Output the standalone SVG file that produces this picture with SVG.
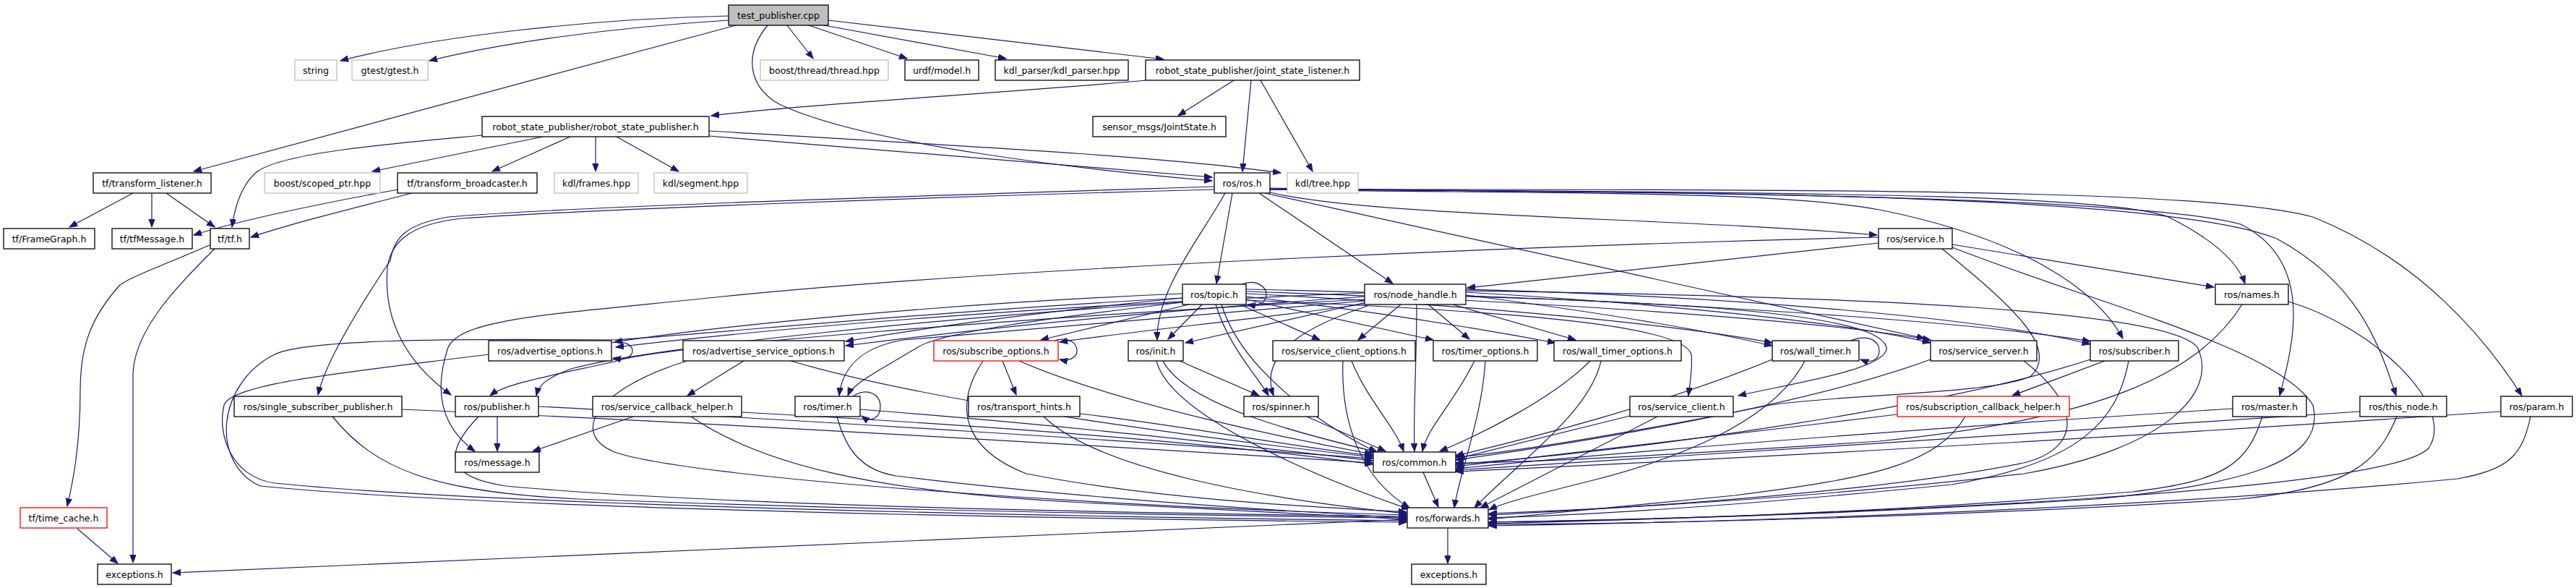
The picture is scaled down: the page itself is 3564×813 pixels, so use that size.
<svg xmlns="http://www.w3.org/2000/svg" width="3564" height="813" viewBox="0 0 3564 813">
<defs>
<marker id="a" markerUnits="userSpaceOnUse" markerWidth="12" markerHeight="9" refX="11" refY="4.25" orient="auto"><path d="M0,0 L11,4.25 L0,8.5 z" fill="#191970" stroke="#191970" stroke-width="1"/></marker>
</defs>
<style>
.n rect{fill:#fff;stroke:#000;stroke-width:1.3}
.g rect{stroke:#bfbfbf}
.r rect{stroke:#f00}
.root rect{fill:#bfbfbf}
text{font-family:"DejaVu Sans",Verdana,sans-serif;font-size:12.5px;text-anchor:middle;fill:#000}
#edges path{fill:none;stroke:#191970;stroke-width:1.2;marker-end:url(#a)}
</style>
<rect width="3564" height="813" fill="#fff"/>
<g id="edges">
<path d="M1008,22 C820,26 600,50 471,84"/>
<path d="M1008,28 C850,38 700,58 594,84"/>
<path d="M1018,35 L268,237"/>
<path d="M1089,35 L1125,81"/>
<path d="M1119,35 L1255,81"/>
<path d="M1140,35 L1392,81"/>
<path d="M1146,28 L1610,82"/>
<path d="M1062,35 C1025,80 1040,125 1080,145 C1200,200 1500,235 1677,250"/>
<path d="M1586,111 C1400,128 1100,145 984,160"/>
<path d="M1707,111 L1630,160"/>
<path d="M1731,111 L1719,237"/>
<path d="M1744,111 L1816,237"/>
<path d="M667,187 C560,197 390,210 355,238 C335,255 325,285 321,314"/>
<path d="M751,189 L515,237"/>
<path d="M789,189 L681,237"/>
<path d="M824,189 L824,237"/>
<path d="M853,189 L939,237"/>
<path d="M981,181 C1300,200 1600,215 1772,239"/>
<path d="M981,188 C1300,215 1550,235 1677,245"/>
<path d="M184,267 L96,314"/>
<path d="M210,267 L210,314"/>
<path d="M230,267 L297,314"/>
<path d="M551,262 C450,280 330,305 268,325"/>
<path d="M570,267 C480,290 400,310 347,328"/>
<path d="M292,338 C230,365 175,385 165,395 C125,440 111,480 111,540 C111,620 100,670 93,700"/>
<path d="M297,344 C240,400 184,460 184,520 L184,778"/>
<path d="M107,731 L163,779"/>
<path d="M1947,718 L239,792"/>
<path d="M2003,731 L2003,779"/>
<path d="M1969,653 L1990,701"/>
<path d="M1705,267 L1683,392"/>
<path d="M1695,267 C1660,330 1600,400 1601,470"/>
<path d="M1742,267 L1927,392"/>
<path d="M1757,266 C1900,300 2300,300 2597,325"/>
<path d="M1750,267 L2663,468"/>
<path d="M1757,262 C2100,268 2450,262 2600,290 C2800,330 2900,400 2937,468"/>
<path d="M1757,260 C2200,268 2900,260 3000,300 C3060,330 3095,360 3106,392"/>
<path d="M1757,261 C2300,266 2950,270 3100,310 C3200,360 3175,470 3154,547"/>
<path d="M1757,262 C2400,265 3000,270 3150,330 C3260,390 3290,470 3315,547"/>
<path d="M1757,262 C2500,262 3050,260 3200,300 C3350,360 3440,470 3489,547"/>
<path d="M1680,258 C1300,270 800,285 620,300 C560,310 545,330 540,360 C500,420 450,500 440,546"/>
<path d="M1680,262 C1300,272 800,290 640,302 C560,310 540,340 536,370 C530,440 560,500 624,546"/>
<path d="M556,566 C1000,585 1500,615 1899,640"/>
<path d="M460,576 C520,650 600,680 800,690 C1200,705 1600,712 1946,716"/>
<path d="M745,562 C1100,580 1600,612 1899,634"/>
<path d="M662,576 C610,630 620,660 700,672 C1000,700 1600,710 1946,714"/>
<path d="M688,576 L688,624"/>
<path d="M676,490 C480,515 320,530 310,560 C300,600 320,660 380,668 C700,700 1500,715 1946,720"/>
<path d="M1636,412 C1300,430 1000,460 850,470 C600,468 420,470 380,490 C300,530 290,640 360,672 C700,705 1500,718 1946,722"/>
<path d="M846,474 C865,470 875,478 875,485 C875,493 866,498 848,495"/>
<path d="M1029,499 L951,547"/>
<path d="M1094,499 C1300,560 1700,610 1899,632"/>
<path d="M950,499 C820,540 790,600 850,625 C950,660 1500,700 1946,712"/>
<path d="M876,576 L737,624"/>
<path d="M1026,570 C1400,590 1700,615 1899,642"/>
<path d="M956,576 C1050,640 1200,680 1500,695 C1700,705 1850,712 1946,718"/>
<path d="M1180,548 C1200,535 1218,545 1218,562 C1218,578 1205,585 1192,575"/>
<path d="M1190,566 C1500,590 1750,620 1899,637"/>
<path d="M1158,576 C1170,620 1190,650 1240,658 C1500,690 1800,708 1946,716"/>
<path d="M1494,572 C1650,590 1800,620 1899,630"/>
<path d="M1444,576 C1520,650 1750,690 1946,710"/>
<path d="M1458,471 C1480,465 1490,475 1490,485 C1490,495 1478,500 1466,497"/>
<path d="M1387,499 L1406,546"/>
<path d="M1410,499 C1550,560 1800,610 1899,628"/>
<path d="M1360,499 C1320,560 1330,620 1420,655 C1600,690 1800,700 1946,708"/>
<path d="M1632,499 L1742,547"/>
<path d="M1609,499 C1640,560 1800,600 1905,625"/>
<path d="M1600,499 C1620,580 1850,670 1950,704"/>
<path d="M1808,576 L1917,624"/>
<path d="M1870,499 C1890,550 1930,590 1942,624"/>
<path d="M1858,499 C1855,580 1880,660 1950,702"/>
<path d="M2040,499 C2010,560 1975,590 1968,624"/>
<path d="M2055,499 C2050,580 2020,650 2012,702"/>
<path d="M2200,499 C2150,550 2050,600 1992,624"/>
<path d="M2215,499 C2200,570 2100,640 2040,702"/>
<path d="M2560,471 C2590,460 2600,475 2600,485 C2600,497 2590,503 2574,497"/>
<path d="M2452,497 C2300,560 2100,610 2014,630"/>
<path d="M2497,499 C2450,590 2300,640 2200,665 C2120,685 2080,695 2060,705"/>
<path d="M2671,497 C2500,560 2200,610 2014,636"/>
<path d="M2800,499 C2880,560 2880,620 2800,640 C2600,680 2300,700 2060,712"/>
<path d="M2912,499 L2784,547"/>
<path d="M2892,497 C2700,560 2300,620 2014,642"/>
<path d="M2945,499 C2930,580 2880,640 2700,670 C2400,700 2200,712 2060,716"/>
<path d="M2625,573 C2400,600 2150,630 2014,645"/>
<path d="M2719,576 C2680,640 2600,660 2400,685 C2250,700 2150,710 2060,718"/>
<path d="M3089,565 C2700,590 2300,620 2014,648"/>
<path d="M3130,576 C3110,640 3080,665 2950,680 C2600,710 2300,718 2060,722"/>
<path d="M3265,569 C2900,595 2400,625 2014,650"/>
<path d="M3316,576 C3290,640 3250,675 3100,690 C2700,715 2300,724 2060,725"/>
<path d="M3460,569 C3000,600 2500,630 2014,652"/>
<path d="M3501,576 C3490,630 3470,650 3400,662 C3000,700 2500,720 2060,727"/>
<path d="M3102,421 C3040,520 2900,580 2600,610 C2300,630 2100,640 2014,640"/>
<path d="M3166,417 C3280,450 3400,560 3360,620 C3300,680 2600,710 2060,724"/>
<path d="M2599,336 L2030,398"/>
<path d="M2701,338 L3063,397"/>
<path d="M2599,328 C2100,340 1400,370 1000,410 C760,435 640,440 620,480 C600,540 610,590 657,624"/>
<path d="M2687,344 C2780,420 2850,480 2810,520 C2760,545 2550,545 2450,560 C2300,590 2100,625 2014,632"/>
<path d="M2701,342 C2900,420 3150,480 3200,560 C3220,640 3100,670 2900,690 C2500,715 2200,720 2060,722"/>
<path d="M1718,393 C1740,385 1752,398 1752,407 C1752,418 1742,424 1726,421"/>
<path d="M1636,406 C1300,420 1000,450 850,473"/>
<path d="M1888,405 C1500,420 1100,450 852,480"/>
<path d="M1636,412 C1450,430 1300,450 1170,472"/>
<path d="M1888,410 C1600,430 1350,455 1170,478"/>
<path d="M1645,421 L1440,470"/>
<path d="M1890,420 C1750,440 1550,460 1466,473"/>
<path d="M1663,421 L1616,469"/>
<path d="M1890,418 L1640,474"/>
<path d="M1722,424 L1826,470"/>
<path d="M1938,421 L1879,470"/>
<path d="M1724,414 L1983,470"/>
<path d="M1976,421 L2033,469"/>
<path d="M1724,410 C1900,430 2050,455 2152,474"/>
<path d="M2010,421 L2180,470"/>
<path d="M1724,406 C2000,420 2300,445 2452,474"/>
<path d="M2028,408 C2200,430 2350,455 2452,478"/>
<path d="M1724,403 C2100,415 2500,440 2671,470"/>
<path d="M2028,404 C2300,420 2550,445 2671,474"/>
<path d="M1724,400 C2200,410 2700,440 2892,472"/>
<path d="M2028,400 C2400,410 2750,440 2892,476"/>
<path d="M1636,418 C1300,440 900,480 790,510 C750,525 745,535 742,547"/>
<path d="M1888,414 C1400,440 900,480 850,500 C760,520 700,530 678,547"/>
<path d="M1636,418 C1450,440 1300,460 1270,480 C1220,510 1180,530 1173,547"/>
<path d="M1888,416 C1600,440 1350,460 1250,470 C1190,480 1165,510 1161,547"/>
<path d="M1682,421 C1700,480 1740,520 1755,547"/>
<path d="M1892,423 C1780,460 1745,500 1762,547"/>
<path d="M1724,415 C2100,430 2330,450 2340,490 C2342,510 2338,530 2336,547"/>
<path d="M2028,410 C2400,420 2600,440 2610,480 C2615,510 2480,530 2405,547"/>
<path d="M2255,575 L2016,634"/>
<path d="M2293,576 L2048,702"/>
<path d="M1690,421 C1720,520 1850,600 1905,625"/>
<path d="M1960,421 C1960,500 1955,580 1957,624"/>
<path d="M2028,402 C2600,410 3000,430 3040,480 C3070,540 3000,620 2800,655 C2500,690 2200,705 2060,710"/>
</g>
<g id="tp" class="n root"><rect x="1008" y="7" width="138" height="28"/><text x="1077" y="25.5">test_publisher.cpp</text></g>
<g id="string" class="n g"><rect x="408" y="83" width="58" height="28"/><text x="437" y="101.5">string</text></g>
<g id="gtest" class="n g"><rect x="487" y="83" width="105" height="28"/><text x="539.5" y="101.5">gtest/gtest.h</text></g>
<g id="bthread" class="n g"><rect x="1052" y="83" width="177" height="28"/><text x="1140.5" y="101.5">boost/thread/thread.hpp</text></g>
<g id="urdf" class="n"><rect x="1252" y="83" width="102" height="28"/><text x="1303" y="101.5">urdf/model.h</text></g>
<g id="kdlp" class="n"><rect x="1377" y="83" width="184" height="28"/><text x="1469" y="101.5">kdl_parser/kdl_parser.hpp</text></g>
<g id="jsl" class="n"><rect x="1585" y="83" width="296" height="28"/><text x="1733" y="101.5">robot_state_publisher/joint_state_listener.h</text></g>
<g id="rsp" class="n"><rect x="667" y="161" width="314" height="28"/><text x="824" y="179.5">robot_state_publisher/robot_state_publisher.h</text></g>
<g id="jstate" class="n"><rect x="1512" y="161" width="184" height="28"/><text x="1604" y="179.5">sensor_msgs/JointState.h</text></g>
<g id="tfl" class="n"><rect x="129" y="239" width="163" height="28"/><text x="210.5" y="257.5">tf/transform_listener.h</text></g>
<g id="scoped" class="n g"><rect x="366" y="239" width="160" height="28"/><text x="446" y="257.5">boost/scoped_ptr.hpp</text></g>
<g id="tfb" class="n"><rect x="550" y="239" width="193" height="28"/><text x="646.5" y="257.5">tf/transform_broadcaster.h</text></g>
<g id="frames" class="n g"><rect x="767" y="239" width="116" height="28"/><text x="825" y="257.5">kdl/frames.hpp</text></g>
<g id="segment" class="n g"><rect x="905" y="239" width="129" height="28"/><text x="969.5" y="257.5">kdl/segment.hpp</text></g>
<g id="ros" class="n"><rect x="1680" y="239" width="77" height="28"/><text x="1718.5" y="257.5">ros/ros.h</text></g>
<g id="tree" class="n g"><rect x="1781" y="239" width="98" height="28"/><text x="1830" y="257.5">kdl/tree.hpp</text></g>
<g id="framegraph" class="n"><rect x="5" y="316" width="126" height="28"/><text x="68" y="334.5">tf/FrameGraph.h</text></g>
<g id="tfmsg" class="n"><rect x="155" y="316" width="111" height="28"/><text x="210.5" y="334.5">tf/tfMessage.h</text></g>
<g id="tf" class="n"><rect x="291" y="316" width="54" height="28"/><text x="318" y="334.5">tf/tf.h</text></g>
<g id="service" class="n"><rect x="2599" y="316" width="102" height="28"/><text x="2650" y="334.5">ros/service.h</text></g>
<g id="topic" class="n"><rect x="1636" y="393" width="88" height="28"/><text x="1680" y="411.5">ros/topic.h</text></g>
<g id="nh" class="n"><rect x="1888" y="393" width="140" height="28"/><text x="1958" y="411.5">ros/node_handle.h</text></g>
<g id="names" class="n"><rect x="3065" y="393" width="101" height="28"/><text x="3115.5" y="411.5">ros/names.h</text></g>
<g id="advopt" class="n"><rect x="676" y="471" width="170" height="28"/><text x="761" y="489.5">ros/advertise_options.h</text></g>
<g id="advsrv" class="n"><rect x="945" y="471" width="223" height="28"/><text x="1056.5" y="489.5">ros/advertise_service_options.h</text></g>
<g id="subopt" class="n r"><rect x="1292" y="471" width="172" height="28"/><text x="1378" y="489.5">ros/subscribe_options.h</text></g>
<g id="init" class="n"><rect x="1561" y="471" width="76" height="28"/><text x="1599" y="489.5">ros/init.h</text></g>
<g id="scopt" class="n"><rect x="1761" y="471" width="197" height="28"/><text x="1859.5" y="489.5">ros/service_client_options.h</text></g>
<g id="timopt" class="n"><rect x="1983" y="471" width="144" height="28"/><text x="2055" y="489.5">ros/timer_options.h</text></g>
<g id="wtopt" class="n"><rect x="2150" y="471" width="176" height="28"/><text x="2238" y="489.5">ros/wall_timer_options.h</text></g>
<g id="wtimer" class="n"><rect x="2452" y="471" width="120" height="28"/><text x="2512" y="489.5">ros/wall_timer.h</text></g>
<g id="ssrv" class="n"><rect x="2671" y="471" width="147" height="28"/><text x="2744.5" y="489.5">ros/service_server.h</text></g>
<g id="subscr" class="n"><rect x="2892" y="471" width="122" height="28"/><text x="2953" y="489.5">ros/subscriber.h</text></g>
<g id="ssp" class="n"><rect x="324" y="548" width="232" height="28"/><text x="440" y="566.5">ros/single_subscriber_publisher.h</text></g>
<g id="pub" class="n"><rect x="630" y="548" width="115" height="28"/><text x="687.5" y="566.5">ros/publisher.h</text></g>
<g id="sch" class="n"><rect x="820" y="548" width="206" height="28"/><text x="923" y="566.5">ros/service_callback_helper.h</text></g>
<g id="timer" class="n"><rect x="1100" y="548" width="90" height="28"/><text x="1145" y="566.5">ros/timer.h</text></g>
<g id="thints" class="n"><rect x="1340" y="548" width="154" height="28"/><text x="1417" y="566.5">ros/transport_hints.h</text></g>
<g id="spinner" class="n"><rect x="1721" y="548" width="103" height="28"/><text x="1772.5" y="566.5">ros/spinner.h</text></g>
<g id="sclient" class="n"><rect x="2255" y="548" width="143" height="28"/><text x="2326.5" y="566.5">ros/service_client.h</text></g>
<g id="subcb" class="n r"><rect x="2625" y="548" width="238" height="28"/><text x="2744" y="566.5">ros/subscription_callback_helper.h</text></g>
<g id="master" class="n"><rect x="3089" y="548" width="102" height="28"/><text x="3140" y="566.5">ros/master.h</text></g>
<g id="thisnode" class="n"><rect x="3265" y="548" width="120" height="28"/><text x="3325" y="566.5">ros/this_node.h</text></g>
<g id="param" class="n"><rect x="3460" y="548" width="99" height="28"/><text x="3509.5" y="566.5">ros/param.h</text></g>
<g id="msg" class="n"><rect x="630" y="625" width="116" height="28"/><text x="688" y="643.5">ros/message.h</text></g>
<g id="common" class="n"><rect x="1900" y="625" width="114" height="28"/><text x="1957" y="643.5">ros/common.h</text></g>
<g id="timecache" class="n r"><rect x="28" y="702" width="120" height="28"/><text x="88" y="720.5">tf/time_cache.h</text></g>
<g id="forwards" class="n"><rect x="1947" y="702" width="112" height="28"/><text x="2003" y="720.5">ros/forwards.h</text></g>
<g id="exc1" class="n"><rect x="135" y="780" width="102" height="28"/><text x="186" y="798.5">exceptions.h</text></g>
<g id="exc2" class="n"><rect x="1953" y="780" width="103" height="28"/><text x="2004.5" y="798.5">exceptions.h</text></g>
</svg>
